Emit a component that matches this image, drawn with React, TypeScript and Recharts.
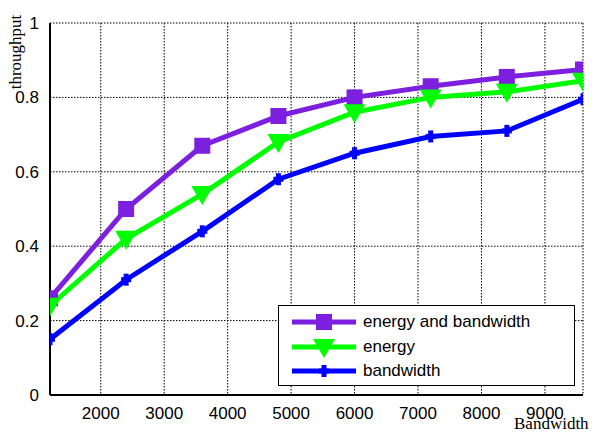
import * as React from 'react'
import { CartesianGrid, Line, LineChart, XAxis, YAxis } from 'recharts'

if (typeof document !== 'undefined') document.body.style.margin = '0'

const bandwidth = [1200, 2400, 3600, 4800, 6000, 7200, 8400, 9600]
const energyAndBandwidth = [0.26, 0.5, 0.67, 0.75, 0.8, 0.83, 0.855, 0.875]
const energyOnly = [0.24, 0.42, 0.54, 0.68, 0.76, 0.8, 0.815, 0.845]
const bandwidthOnly = [0.15, 0.31, 0.44, 0.58, 0.65, 0.695, 0.71, 0.795]
const xTicks = [2000, 3000, 4000, 5000, 6000, 7000, 8000, 9000]
const yTicks = [0, 0.2, 0.4, 0.6, 0.8, 1]

const PURPLE = '#7d1fdf'
const GREEN = '#00ff00'
const BLUE = '#0000ff'
const SANS = '"Liberation Sans", Arial, sans-serif'
const SERIF = '"Liberation Serif", "Times New Roman", serif'
const TICK = { fontSize: 17, fill: '#000', fontFamily: SANS } as const

const data = bandwidth.map((b, i) => ({
  b,
  eb: energyAndBandwidth[i],
  e: energyOnly[i],
  bw: bandwidthOnly[i]
}))

const SERIES = [
  { key: 'eb', label: 'energy and bandwidth', color: PURPLE, shape: 'square' },
  { key: 'e', label: 'energy', color: GREEN, shape: 'tri' },
  { key: 'bw', label: 'bandwidth', color: BLUE, shape: 'plus' }
] as const

type Shape = (typeof SERIES)[number]['shape']

function Marker({ cx, cy, shape, color }: { cx: number; cy: number; shape: Shape; color: string }) {
  if (shape === 'square') return <rect x={cx - 8} y={cy - 8} width={16} height={16} fill={color} />
  if (shape === 'tri')
    return <path d={`M${cx - 11},${cy - 8} L${cx + 11},${cy - 8} L${cx},${cy + 11} Z`} fill={color} />
  return (
    <g fill={color}>
      <rect x={cx - 5} y={cy - 2.5} width={10} height={5} />
      <rect x={cx - 2.5} y={cy - 6} width={5} height={12} />
    </g>
  )
}

function dot(shape: Shape, color: string) {
  return (p: any) =>
    p.cx == null ? <g key={p.index} /> : <Marker key={p.index} cx={p.cx} cy={p.cy} shape={shape} color={color} />
}

// legend sits inside the plot, bottom right, like the original figure
function LegendBox() {
  return (
    <div
      style={{
        position: 'absolute',
        left: 278,
        top: 305,
        border: '1.5px solid #000',
        background: '#fff',
        width: 297,
        height: 81,
        boxSizing: 'border-box',
        paddingTop: 4,
        fontFamily: SANS,
        fontSize: 17
      }}
    >
      {SERIES.map((s) => (
        <div key={s.key} style={{ display: 'flex', alignItems: 'center', height: 24.5 }}>
          <svg width={84} height={24} style={{ flex: 'none' }}>
            <line x1={13} x2={77} y1={12} y2={12} stroke={s.color} strokeWidth={5} />
            <Marker cx={45} cy={12} shape={s.shape} color={s.color} />
          </svg>
          <span>{s.label}</span>
        </div>
      ))}
    </div>
  )
}

export default function App() {
  return (
    <div style={{ position: 'relative', width: 611, height: 434, background: '#fff' }}>
      <LineChart width={611} height={434} data={data} margin={{ top: 23, right: 28, bottom: 9, left: 10 }}>
        <CartesianGrid stroke="#000" strokeDasharray="1.5 1.5" strokeWidth={1} />
        <XAxis
          dataKey="b"
          type="number"
          domain={[1200, 9600]}
          ticks={xTicks}
          tick={TICK}
          tickLine={false}
          tickMargin={6}
          height={30}
          axisLine={{ stroke: '#000', strokeWidth: 2 }}
          allowDataOverflow
        />
        <XAxis
          xAxisId="top"
          orientation="top"
          dataKey="b"
          type="number"
          domain={[1200, 9600]}
          ticks={xTicks}
          tick={false}
          tickLine={false}
          height={0}
          axisLine={{ stroke: '#000', strokeWidth: 2 }}
        />
        <YAxis
          domain={[0, 1]}
          ticks={yTicks}
          tick={TICK}
          tickLine={false}
          tickMargin={5}
          width={40}
          axisLine={{ stroke: '#000', strokeWidth: 2 }}
        />
        <YAxis
          yAxisId="right"
          orientation="right"
          domain={[0, 1]}
          ticks={yTicks}
          tick={false}
          tickLine={false}
          width={0}
          axisLine={{ stroke: '#000', strokeWidth: 2 }}
        />
        {SERIES.map((s) => (
          <Line
            key={s.key}
            dataKey={s.key}
            stroke={s.color}
            strokeWidth={5}
            dot={dot(s.shape, s.color)}
            activeDot={false}
            isAnimationActive={false}
          />
        ))}
      </LineChart>
      <LegendBox />
      <div
        style={{
          position: 'absolute',
          left: 16,
          top: 52,
          transform: 'translate(-50%, -50%) rotate(-90deg)',
          fontFamily: SERIF,
          fontSize: 17,
          whiteSpace: 'nowrap'
        }}
      >
        throughput
      </div>
      <div
        style={{
          position: 'absolute',
          left: 514,
          top: 414,
          fontFamily: SERIF,
          fontSize: 17,
          whiteSpace: 'nowrap',
          background: 'transparent'
        }}
      >
        Bandwidth
      </div>
    </div>
  )
}
